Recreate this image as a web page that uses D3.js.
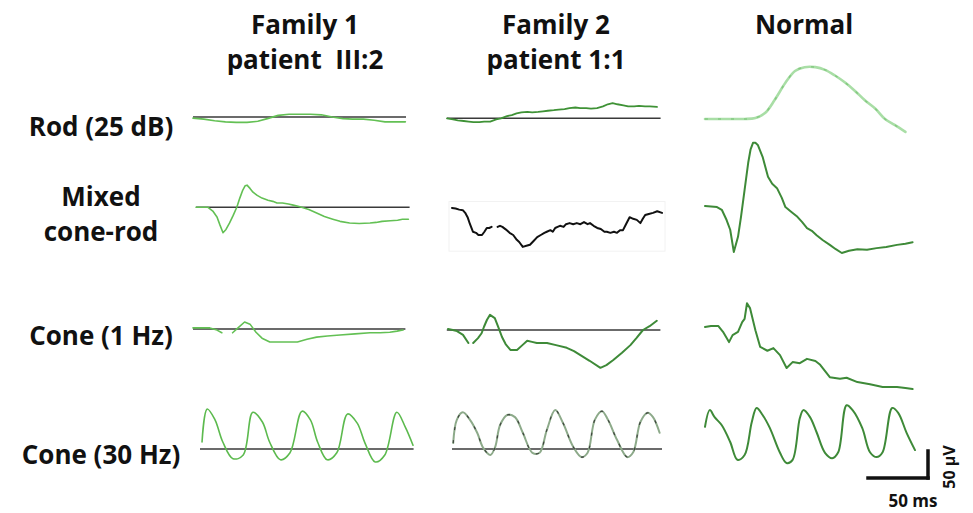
<!DOCTYPE html>
<html>
<head>
<meta charset="utf-8">
<script src="https://cdn.jsdelivr.net/npm/d3@7/dist/d3.min.js"></script>
<style>
  html, body { margin: 0; padding: 0; background: #fff; }
  svg { display: block; }
  text { font-family: "Open Sans", Lato, sans-serif; font-weight: 700; fill: #111; white-space: pre; }
</style>
</head>
<body>
<svg id="chart" width="973" height="513"></svg>
<script>
// ERG responses: time in ms, amplitude in µV ([t, v] pairs, null = gap in the recording)
const columnTitles = [["Family 1", "patient  III:2"], ["Family 2", "patient 1:1"], ["Normal"]];
const rowLabels = [["Rod (25 dB)"], ["Mixed", "cone-rod"], ["Cone (1 Hz)"], ["Cone (30 Hz)"]];

const rodF1 = [[0,-2],[9,-4],[18,-7],[27,-9],[36,-10],[45,-10],[54,-8],[62,-3],[71,3],[80,5],[89,5],[98,5],[107,4],[116,0],[125,-3],[133,-4],[142,-4],[151,-6],[160,-9],[169,-9],[177,-9]];
const rodF2 = [[0,0],[5,-2],[9,-4],[14,-5],[18,-6],[22,-7],[27,-7],[31,-6],[36,-6],[41,-2],[45,0],[50,4],[54,6],[58,9],[62,11],[67,12],[71,11],[76,12],[80,13],[84,14],[89,15],[93,16],[98,17],[102,19],[107,20],[111,19],[116,19],[120,18],[125,19],[130,22],[134,26],[138,28],[142,26],[147,24],[151,22],[156,22],[160,23],[165,22],[169,22],[175,21]];
const rodNormal = [[0,0],[8,0],[17,0],[25,0],[33,0],[42,2],[50,11],[58,35],[67,67],[75,89],[83,96],[92,96],[100,91],[108,81],[117,67],[125,52],[133,35],[142,19],[150,0],[158,-11],[167,-24]];

const mixedF1 = [[0,0],[5,0],[10,0],[14,-7],[17.5,-18],[20,-33],[22.5,-47],[25,-41],[28,-29],[31,-15],[34,0],[36.5,17],[39,32],[41,40],[42.5,41],[45,35],[47.5,28],[51,22],[55,17],[60,13],[64,11],[67.5,8],[72,8],[77,6],[81,4],[85,2],[88,0],[94,-4],[101,-11],[107,-17],[114,-22],[120,-26],[128,-29],[136,-30],[145,-29],[150,-28],[155,-26],[162,-25],[168,-24],[172,-22],[177,-22]];
const mixedF2 = [[0,0],[3,-1],[6,-3],[9,-4],[11,-9],[13,-17],[15,-30],[17.5,-44],[20,-46],[22,-50],[25,-50],[27,-44],[29,-37],[31,-37],[33,-35],null,[38,-35],[40,-33],[42,-35],[45,-40],[48,-46],[51,-50],[54,-59],[56,-63],[59,-72],[62,-70],[65,-68],[68,-61],[71,-54],[74,-50],[77,-46],[79,-44],[82,-41],[84,-44],[86,-37],[88,-35],[90,-33],[93,-35],[95,-30],[98,-28],[101,-30],[104,-28],[107,-30],[110,-26],[113,-30],[115,-28],[118,-33],[121,-37],[124,-39],[127,-44],[129,-44],[132,-46],[135,-44],[137.5,-46],[140,-41],[142.5,-41],[145,-30],[148,-17],[151,-20],[154,-22],[157,-28],[159,-20],[161,-13],[164,-11],[167.5,-9],[171,-6],[175,-9]];
const mixedNormal = [[0,0],[5,-1],[10,-2],[14,-7],[18,-26],[21,-44],[24,-85],[27.5,-57],[30,-20],[33,30],[36,80],[38,105],[40,117],[42,117],[44,113],[48,91],[52.5,54],[56,41],[60,33],[64,15],[67,-2],[72,-11],[77,-20],[81,-30],[85,-41],[89,-46],[93,-54],[98,-63],[104,-72],[109,-80],[114,-87],[120,-83],[127,-80],[135,-81],[143,-78],[151,-76],[160,-72],[167,-70],[173,-67]];

const cone1F1 = [[0,2],[7,2],[14,2],[20,-2],[24,-7],null,[33,-7],[37.5,2],[43,13],[47.5,9],[52.5,-6],[57.5,-17],[64,-24],[77,-24],[87,-24],[95,-19],[103,-15],[112,-13],[122.5,-11],[135,-9],[147.5,-7],[156,-7],[164,-6],[170,-4],[175,-2]];
const cone1F2 = [[0,2],[4,0],[7.5,-2],[12.5,-9],[17,-24],null,[21,-24],[25,-15],[28,-6],[30,6],[32.5,19],[35,28],[39,22],[42,5],[45,-13],[48,-26],[52,-37],[57.5,-37],[62,-28],[66,-20],[70,-22],[74,-24],[82.5,-24],[90,-28],[99,-33],[105,-39],[110,-46],[118,-57],[127,-70],[132,-65],[137.5,-56],[145,-42],[152,-28],[157,-15],[162.5,0],[168,7],[174,17]];
const cone1Normal = [[0,0],[5,2],[11,2],[15,-9],[20,-28],[23,-15],[27.5,-9],[31,9],[33,15],[35,44],[37.5,35],[42,-6],[46,-37],[52,-44],[57,-39],[62.5,-52],[68,-76],[73,-65],[79,-67],[85,-59],[92,-63],[96,-70],[104,-93],[112.5,-96],[118,-94],[127,-102],[137.5,-106],[148,-111],[160,-111],[167,-113],[173,-115]];

const cone30F1 = [[1.7,13],[6,74],[12.5,54],[19,13],[27.5,-18],[36,-11],[44,68],[52,50],[58,13],[67,-20],[75,-7],[85,70],[92,54],[98,13],[106,-20],[114,-7],[123,65],[131,48],[137.5,11],[146,-24],[154,-11],[164,68],[171,41],[177.5,7]];
const cone30F2 = [[1,11],[4,54],[9,68],[15,54],[21,30],[26,2],[32,-11],[36,4],[40,44],[46,63],[52.5,59],[59,30],[67,-7],[73,-7],[79,35],[86,72],[92.5,48],[101,4],[108,-15],[113,-7],[119,54],[125,70],[130,54],[137.5,17],[146,-15],[151,-6],[157,50],[163,67],[167.5,59],[173,30]];
const cone30Normal = [[0,41],[4,72],[8,59],[14,44],[21,13],[27,-20],[33,-11],[39,50],[43,76],[48,63],[54,39],[62.5,-7],[68,-26],[73,-20],[79,57],[82,72],[87.5,59],[93,31],[100,-7],[106,-17],[111,-6],[118,81],[123,72],[131,39],[137.5,-6],[143,-15],[148,-6],[156,76],[161,67],[168,30],[175,-2]];

const svg = d3.select("#chart");

// Amplitude/time calibration shared by every trace (50 ms ↔ 60 px, 50 µV ↔ 27 px)
const pxPerMs = 1.2, pxPerUv = 27 / 50;

const panels = [
  { data: rodF1,        x0: 193, base: 117,   ref: [0, 177.5], color: "#63c054", width: 1.6 },
  { data: rodF2,        x0: 447, base: 118.3, ref: [0, 178],   color: "#3f9236", width: 1.8 },
  { data: rodNormal,    x0: 705, base: 119,   ref: null,       color: "#a9dea6", width: 2.6, smooth: true, dots: "#7cc479" },
  { data: mixedF1,      x0: 196, base: 207.3, ref: [0, 178],   color: "#63c054", width: 1.6 },
  { data: mixedF2,      x0: 452, base: 208,   ref: null,       color: "#111",    width: 2,   frame: true },
  { data: mixedNormal,  x0: 705, base: 206,   ref: null,       color: "#3e8a38", width: 2 },
  { data: cone1F1,      x0: 193, base: 329,   ref: [0, 177],   color: "#63c054", width: 1.6 },
  { data: cone1F2,      x0: 448, base: 330,   ref: [-1, 177],  color: "#3e8a38", width: 2 },
  { data: cone1Normal,  x0: 705, base: 327,   ref: null,       color: "#3e8a38", width: 2 },
  { data: cone30F1,     x0: 200, base: 449,   ref: [0, 178],   color: "#5cba4e", width: 1.6, smooth: true },
  { data: cone30F2,     x0: 452, base: 449,   ref: [0, 175],   color: "#8daa8a", width: 2,   smooth: true, dots: "#2a2a2a" },
  { data: cone30Normal, x0: 705, base: 449,   ref: null,       color: "#3e8a38", width: 2,   smooth: true }
];

panels.forEach(p => {
  const x = d3.scaleLinear().domain([0, 50]).range([p.x0, p.x0 + 50 * pxPerMs]);
  const y = d3.scaleLinear().domain([0, 50]).range([p.base, p.base - 50 * pxPerUv]);
  const g = svg.append("g");

  if (p.frame) {
    const ext = d3.extent(p.data.filter(d => d), d => d[0]);
    g.append("rect")
      .attr("x", x(ext[0]) - 3).attr("y", y(12))
      .attr("width", x(ext[1]) - x(ext[0]) + 6).attr("height", y(-80) - y(12))
      .attr("fill", "none").attr("stroke", "#f2f2f2").attr("stroke-width", 1);
  }

  if (p.ref) {
    g.append("line")
      .attr("x1", x(p.ref[0])).attr("x2", x(p.ref[1]))
      .attr("y1", y(0)).attr("y2", y(0))
      .attr("stroke", "#3a3a3a").attr("stroke-width", 1.5);
  }

  const line = d3.line()
    .defined(d => d !== null)
    .x(d => x(d[0])).y(d => y(d[1]))
    .curve(p.smooth ? d3.curveCatmullRom.alpha(0.5) : d3.curveLinear);

  g.append("path")
    .attr("d", line(p.data))
    .attr("fill", "none")
    .attr("stroke", p.color)
    .attr("stroke-width", p.width)
    .attr("stroke-linejoin", "round")
    .attr("stroke-linecap", "round");

  if (p.dots) {
    g.append("path")
      .attr("d", line(p.data))
      .attr("fill", "none")
      .attr("stroke", p.dots)
      .attr("stroke-width", p.width * 0.6)
      .attr("stroke-dasharray", "3,10")
      .attr("opacity", 0.8);
  }
});

// Column headings
const colCenters = [305, 556, 804];
columnTitles.forEach((lines, i) => {
  lines.forEach((s, j) => {
    svg.append("text")
      .attr("x", colCenters[i]).attr("y", 34 + j * 35)
      .attr("text-anchor", "middle")
      .attr("font-size", 26)
      .text(s);
  });
});

// Row labels
const rowBaselines = [[136], [206, 241], [345], [464]];
rowLabels.forEach((lines, i) => {
  lines.forEach((s, j) => {
    svg.append("text")
      .attr("x", 101).attr("y", rowBaselines[i][j])
      .attr("text-anchor", "middle")
      .attr("font-size", 26)
      .text(s);
  });
});

// Calibration bar: 50 ms × 50 µV
const sx = d3.scaleLinear().domain([0, 50]).range([868, 868 + 50 * pxPerMs]);
const sy = d3.scaleLinear().domain([0, 50]).range([478, 478 - 50 * pxPerUv]);
const bar = svg.append("g").attr("stroke", "#111").attr("stroke-width", 3.5).attr("stroke-linecap", "square");
bar.append("line").attr("x1", sx(0)).attr("x2", sx(50)).attr("y1", sy(0)).attr("y2", sy(0));
bar.append("line").attr("x1", sx(50)).attr("x2", sx(50)).attr("y1", sy(0)).attr("y2", sy(50));

svg.append("text")
  .attr("x", 913).attr("y", 507)
  .attr("text-anchor", "middle").attr("font-size", 17)
  .text("50 ms");
svg.append("text")
  .attr("transform", "translate(955,467) rotate(-90)")
  .attr("text-anchor", "middle").attr("font-size", 16)
  .text("50 µV");
</script>
</body>
</html>
